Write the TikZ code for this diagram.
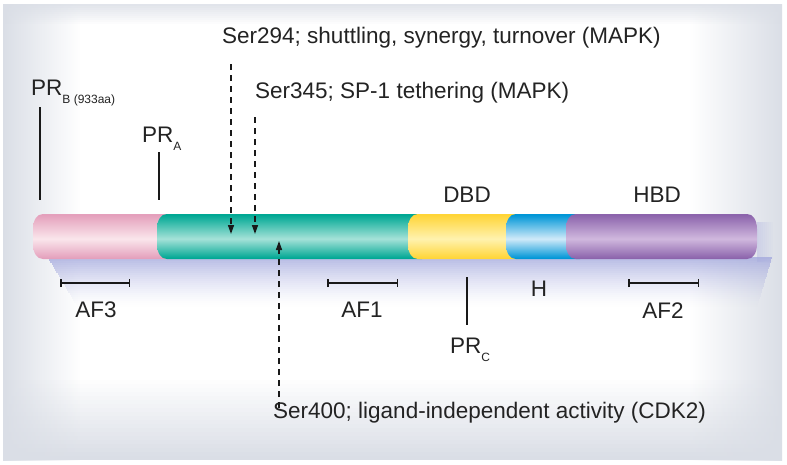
\documentclass[tikz,border=0pt]{standalone}
\usepackage{fontspec}
\setmainfont{Liberation Sans}
\usetikzlibrary{arrows.meta}

\definecolor{txt}{RGB}{35,35,35}
\definecolor{lin}{RGB}{25,25,25}
\definecolor{bgG}{RGB}{218,222,230}
\definecolor{shadowc}{RGB}{165,170,222}
\definecolor{pinkD}{RGB}{228,160,188}
\definecolor{pinkL}{RGB}{250,230,236}
\definecolor{tealD}{RGB}{0,168,148}
\definecolor{tealL}{RGB}{165,226,216}
\definecolor{yelD}{RGB}{255,213,55}
\definecolor{yelL}{RGB}{255,242,175}
\definecolor{bluD}{RGB}{0,150,215}
\definecolor{bluL}{RGB}{208,234,249}
\definecolor{purD}{RGB}{140,100,172}
\definecolor{purL}{RGB}{208,184,222}

\pgfdeclareverticalshading[dk,lt]{cyl}{100bp}{color(0bp)=(dk); color(26bp)=(dk); color(47.5bp)=(lt); color(74bp)=(dk); color(100bp)=(dk)}
\pgfdeclarehorizontalshading{bgh}{100bp}{color(0bp)=(bgG); color(25bp)=(bgG); color(30bp)=(white); color(69bp)=(white); color(75bp)=(bgG); color(100bp)=(bgG)}

\newcommand{\subs}[1]{\raisebox{-8pt}{\fontsize{12}{14}\selectfont #1}}
\newcommand{\cylseg}[4]{%
  \colorlet{dk}{#3}\colorlet{lt}{#4}%
  \shade[shading=cyl] (#2,214) -- (#1+10,214) .. controls (#1+4,214) and (#1,220) .. (#1,229) -- (#1,244) .. controls (#1,253) and (#1+4,259) .. (#1+10,259) -- (#2,259) -- cycle;}

\begin{document}
\begin{tikzpicture}[x=1pt,y=-1pt,
  lbl/.style={inner sep=0pt, text=txt, font=\fontsize{22.5}{27}\selectfont},
  tickline/.style={line width=2pt, draw=lin},
  dasharrow/.style={dash pattern=on 6pt off 5pt, line width=1.4pt, draw=lin, -{Triangle[length=9pt,width=6pt]}},
  afbar/.style={line width=2.5pt, draw=lin, {Bar[width=8pt,line width=1.5pt]}-{Bar[width=8pt,line width=1.5pt]}}]
\useasboundingbox (0,0) rectangle (787,464);
% background
\fill[white] (0,0) rectangle (787,464);
\shade[shading=bgh] (3,4) rectangle (782,460);
\foreach \i in {0,...,19}{
  \pgfmathsetmacro{\op}{(\i+1)/20}
  \fill[bgG, opacity=\op] (3,380+4*\i) rectangle (782,384+4*\i);
}
\foreach \i in {0,...,9}{
  \pgfmathsetmacro{\op}{0.8*(1-\i/10)}
  \fill[bgG, opacity=\op] (3,4+2*\i) rectangle (782,6+2*\i);
}
% shadow under the bar
\foreach \i in {0,...,24}{
  \pgfmathsetmacro{\op}{0.8*(1-\i/25)^1.5}
  \fill[shadowc, opacity=\op] (48+1.2*\i,257+2*\i) rectangle (772-0.6*\i,259+2*\i);
}
\foreach \j in {0,...,7}{
  \pgfmathsetmacro{\op}{0.35*(1-\j/8)}
  \fill[shadowc, opacity=\op] (757+2*\j,222) rectangle (759+2*\j,262);
}
% bar segments
\cylseg{33}{172}{pinkD}{pinkL}
\cylseg{157}{422}{tealD}{tealL}
\cylseg{408}{520}{yelD}{yelL}
\cylseg{506}{580}{bluD}{bluL}
\colorlet{dk}{purD}\colorlet{lt}{purL}
\shade[shading=cyl] (747,214) -- (576,214) .. controls (570,214) and (566,220) .. (566,229) -- (566,244) .. controls (566,253) and (570,259) .. (576,259) -- (747,259) .. controls (753,259) and (757,253) .. (757,244) -- (757,229) .. controls (757,220) and (753,214) .. (747,214) -- cycle;

% labels
\node[lbl, anchor=base west] (ser294) at (222,43) {Ser294; shuttling, synergy, turnover (MAPK)};
\node[lbl, anchor=base west] (ser345) at (255,98) {Ser345; SP-1 tethering (MAPK)};
\node[lbl, anchor=base west] (prb) at (31,95) {PR\subs{B (933aa)}};
\node[lbl, anchor=base west] (pra) at (142,142) {PR\subs{A}};
\node[lbl, anchor=base] (dbd) at (467,202) {DBD};
\node[lbl, anchor=base] (hbd) at (657,202) {HBD};
\node[lbl, anchor=base] (af3) at (96,317) {AF3};
\node[lbl, anchor=base] (af1) at (362,317) {AF1};
\node[lbl, anchor=base] (af2) at (663,318) {AF2};
\node[lbl, anchor=base] (h) at (539,296) {H};
\node[lbl, anchor=base west] (prc) at (450,353) {PR\subs{C}};
\node[lbl, anchor=base west] (ser400) at (273,418) {Ser400; ligand-independent activity (CDK2)};

% coordinates
\coordinate (prbT) at (40,107); \coordinate (prbB) at (40,200);
\coordinate (praT) at (159,152); \coordinate (praB) at (159,200);
\coordinate (prcT) at (467,277); \coordinate (prcB) at (467,325);
\coordinate (a1s) at (231,64);  \coordinate (a1e) at (231,234);
\coordinate (a2s) at (255,117); \coordinate (a2e) at (255,234);
\coordinate (a3s) at (279,408); \coordinate (a3e) at (279,241);
\coordinate (af3l) at (60,283);  \coordinate (af3r) at (130,283);
\coordinate (af1l) at (327,283); \coordinate (af1r) at (398,283);
\coordinate (af2l) at (628,283); \coordinate (af2r) at (699,283);

\draw[tickline] (prbT) -- (prbB);
\draw[tickline] (praT) -- (praB);
\draw[tickline] (prcT) -- (prcB);
\draw[dasharrow] (a1s) -- (a1e);
\draw[dasharrow] (a2s) -- (a2e);
\draw[dasharrow] (a3s) -- (a3e);
\draw[afbar] (af3l) -- (af3r);
\draw[afbar] (af1l) -- (af1r);
\draw[afbar] (af2l) -- (af2r);
\end{tikzpicture}
\end{document}
